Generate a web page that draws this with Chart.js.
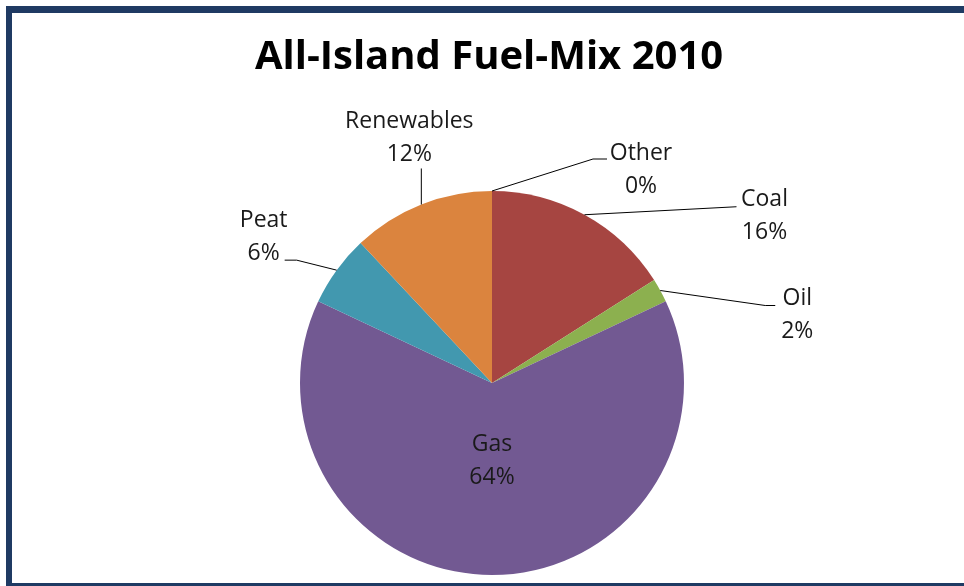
<!DOCTYPE html>
<html>
<head>
<meta charset="utf-8">
<script src="https://cdn.jsdelivr.net/npm/chart.js@4"></script>
<style>
  html, body { margin: 0; padding: 0; background: #fff; }
  #wrap { width: 964px; height: 586px; position: relative; }
</style>
</head>
<body>
<div id="wrap"><canvas id="fuelChart"></canvas></div>
<script>
const fuels = ['Other', 'Coal', 'Oil', 'Gas', 'Peat', 'Renewables'];
const shares = [0, 16, 2, 64, 6, 12];
const sliceColors = ['#7f7f7f', '#a64541', '#8cb04f', '#725992', '#4298af', '#db843e'];

// where each label sits, relative to the slice edge at its mid angle
const labelSpots = {
  Other:      { label: [149, -22], leader: [[101, -32], [115, -32]] },
  Coal:       { label: [180, 0],   leader: [[152, -8]] },
  Oil:        { label: [137, 23],  leader: [[105, 15], [115, 15]] },
  Gas:        { inside: 0.4 },
  Peat:       { label: [-73, -34], leader: [[-40, -10], [-52, -10]] },
  Renewables: { label: [-12, -68], leader: [[0, -36]] }
};

const labelFont = '23px "Open Sans"';
const lineGap = 33;

const pieLabels = {
  id: 'pieLabels',
  afterDraw(chart) {
    const ctx = chart.ctx;
    ctx.save();

    // frame
    ctx.fillStyle = '#1f3a63';
    ctx.fillRect(6, 6, 958, 7);
    ctx.fillRect(6, 6, 6, 580);
    ctx.fillRect(6, 583, 958, 3);

    // title
    ctx.fillStyle = '#000';
    ctx.font = 'bold 40px "Open Sans"';
    ctx.textAlign = 'center';
    ctx.textBaseline = 'middle';
    ctx.fillText('All-Island Fuel-Mix 2010', 489, 58);

    const meta = chart.getDatasetMeta(0);
    ctx.font = labelFont;
    meta.data.forEach((arc, i) => {
      const name = fuels[i];
      const spot = labelSpots[name];
      const mid = (arc.startAngle + arc.endAngle) / 2;
      let cx, cy;
      if (spot.inside) {
        const r = arc.outerRadius * spot.inside;
        cx = arc.x + Math.cos(mid) * r;
        cy = arc.y + Math.sin(mid) * r;
      } else {
        const ex = arc.x + Math.cos(mid) * arc.outerRadius;
        const ey = arc.y + Math.sin(mid) * arc.outerRadius;
        ctx.strokeStyle = '#000';
        ctx.lineWidth = 1;
        ctx.beginPath();
        ctx.moveTo(ex, ey);
        spot.leader.forEach(p => ctx.lineTo(ex + p[0], ey + p[1]));
        ctx.stroke();
        cx = ex + spot.label[0];
        cy = ey + spot.label[1];
      }
      ctx.fillStyle = '#1a1a1a';
      ctx.fillText(name, cx, cy - lineGap / 2 + 1);
      ctx.fillText(Math.round(shares[i]) + '%', cx, cy + lineGap / 2 + 1);
    });
    ctx.restore();
  }
};

const ctx = document.getElementById('fuelChart').getContext('2d');
new Chart(ctx, {
  type: 'pie',
  data: {
    labels: fuels,
    datasets: [{
      data: shares,
      backgroundColor: sliceColors,
      borderWidth: 0
    }]
  },
  options: {
    responsive: true,
    maintainAspectRatio: false,
    animation: false,
    layout: { padding: { top: 191, bottom: 11, left: 20, right: 0 } },
    plugins: {
      legend: { display: false },
      tooltip: { enabled: false }
    }
  },
  plugins: [pieLabels]
});
</script>
</body>
</html>
